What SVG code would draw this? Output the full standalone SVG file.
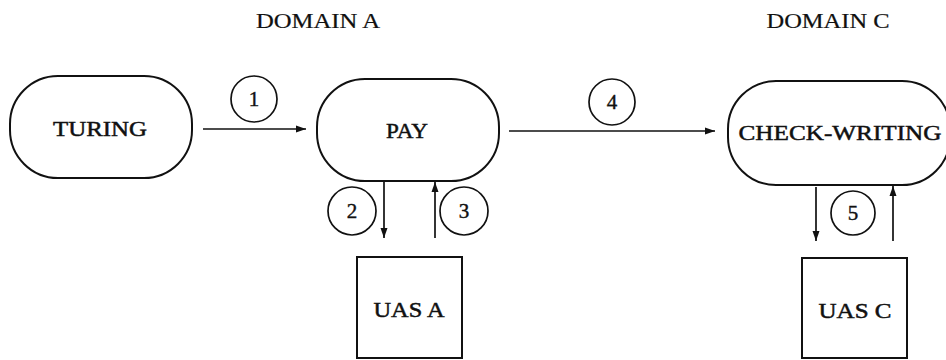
<svg xmlns="http://www.w3.org/2000/svg" width="946" height="360" viewBox="0 0 946 360">
<style>
.shape{fill:none;stroke:#111;stroke-width:2}
.conn{fill:none;stroke:#111;stroke-width:1.7}
.lbl{font-family:"Liberation Serif","DejaVu Serif",serif;fill:#111;text-anchor:middle}
.big{font-size:22px;stroke:#111;stroke-width:0.5}
.title{font-size:20px;stroke:#111;stroke-width:0.2}
.num{font-size:21px;stroke:#111;stroke-width:0.4}
.circ{fill:none;stroke:#111;stroke-width:1.7}
</style>
<defs>
<marker id="ah" viewBox="0 0 10 8" refX="10" refY="4" markerWidth="10" markerHeight="8" markerUnits="userSpaceOnUse" orient="auto">
<path d="M0,0.5 L10,4 L0,7.5 Z" fill="#111"/>
</marker>
</defs>
<g id="title-a"><text class="lbl title" x="318" y="28" textLength="124" lengthAdjust="spacingAndGlyphs">DOMAIN A</text></g>
<g id="title-c"><text class="lbl title" x="828" y="28" textLength="123" lengthAdjust="spacingAndGlyphs">DOMAIN C</text></g>
<g id="turing"><rect class="shape" x="10" y="76" width="182" height="102" rx="48" ry="48"/><text class="lbl big" x="100" y="136" textLength="94" lengthAdjust="spacingAndGlyphs">TURING</text></g>
<g id="pay"><rect class="shape" x="317" y="79" width="182" height="102" rx="48" ry="48"/><text class="lbl big" x="407" y="138" textLength="42" lengthAdjust="spacingAndGlyphs">PAY</text></g>
<g id="check-writing"><rect class="shape" x="728" y="81" width="222" height="104" rx="48" ry="48"/><text class="lbl big" x="840" y="140" textLength="203" lengthAdjust="spacingAndGlyphs">CHECK-WRITING</text></g>
<g id="uas-a"><rect class="shape" x="357" y="257" width="105" height="101"/><text class="lbl big" x="409" y="317" textLength="71" lengthAdjust="spacingAndGlyphs">UAS A</text></g>
<g id="uas-c"><rect class="shape" x="802" y="258" width="105" height="100"/><text class="lbl big" x="855" y="318" textLength="73" lengthAdjust="spacingAndGlyphs">UAS C</text></g>
<g id="connectors">
<line class="conn" x1="203" y1="129" x2="306" y2="129" marker-end="url(#ah)"/>
<line class="conn" x1="509" y1="131" x2="715" y2="131" marker-end="url(#ah)"/>
<line class="conn" x1="384" y1="182" x2="384" y2="238" marker-end="url(#ah)"/>
<line class="conn" x1="435" y1="238" x2="435" y2="182" marker-end="url(#ah)"/>
<line class="conn" x1="816" y1="187" x2="816" y2="241" marker-end="url(#ah)"/>
<line class="conn" x1="893" y1="241" x2="893" y2="186" marker-end="url(#ah)"/>
</g>
<g id="label-1"><circle class="circ" cx="254" cy="99" r="23"/><text class="lbl num" x="254" y="106">1</text></g>
<g id="label-4"><circle class="circ" cx="612" cy="102" r="23"/><text class="lbl num" x="612" y="109">4</text></g>
<g id="label-2"><circle class="circ" cx="352" cy="211" r="24"/><text class="lbl num" x="352" y="218">2</text></g>
<g id="label-3"><circle class="circ" cx="464" cy="211" r="24"/><text class="lbl num" x="464" y="218">3</text></g>
<g id="label-5"><circle class="circ" cx="853" cy="213" r="22"/><text class="lbl num" x="853" y="220">5</text></g>
</svg>
